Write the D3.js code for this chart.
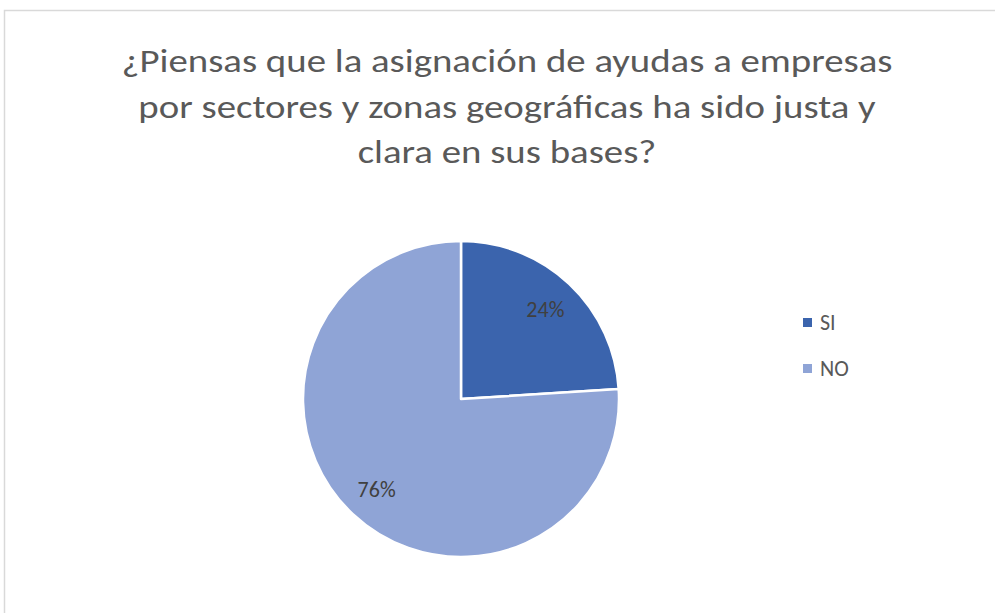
<!DOCTYPE html>
<html>
<head>
<meta charset="utf-8">
<script src="https://cdn.jsdelivr.net/npm/d3@7"></script>
<style>
  html, body { margin: 0; padding: 0; background: #fff; }
  svg { display: block; }
</style>
</head>
<body>
<svg id="chart"></svg>
<script>
const categories = ['SI', 'NO'];
const values = [24, 76];
const colors = ['#3b64ad', '#8fa4d6'];
const titleLines = [
  '¿Piensas que la asignación de ayudas a empresas',
  'por sectores y zonas geográficas ha sido justa y',
  'clara en sus bases?',
];

const width = 995;
const height = 613;
const fontFamily = "Carlito, Calibri, 'Open Sans', sans-serif";

const svg = d3.select('#chart')
  .attr('width', width)
  .attr('height', height);

// chart frame (runs off the right and bottom of the window)
svg.append('rect')
  .attr('x', 4.5)
  .attr('y', 10.5)
  .attr('width', 1100)
  .attr('height', 800)
  .attr('fill', '#fff')
  .attr('stroke', '#d9d9d9')
  .attr('stroke-width', 1.5);

// title
const title = svg.append('g')
  .attr('font-family', fontFamily)
  .attr('font-size', 32)
  .attr('fill', '#595959')
  .attr('text-anchor', 'middle');

const titleText = title.selectAll('text')
  .data(titleLines)
  .enter().append('text')
  .attr('x', 507)
  .attr('y', (d, i) => 72 + i * 45.5)
  .text((d) => d);

// squeeze to Calibri-like width
const natural = titleText.nodes()[0].getComputedTextLength();
const k = 771 / natural;
titleText.each(function () {
  const len = this.getComputedTextLength();
  d3.select(this)
    .attr('textLength', len * k)
    .attr('lengthAdjust', 'spacingAndGlyphs');
});

// pie
const cx = 461;
const cy = 399;
const radius = 158;

const pie = d3.pie().sort(null).value((d) => d);
const arcs = pie(values);
const arc = d3.arc().innerRadius(0).outerRadius(radius);
const labelArc = d3.arc().innerRadius(radius * 0.78).outerRadius(radius * 0.78);

const g = svg.append('g')
  .attr('transform', `translate(${cx},${cy})`);

g.selectAll('path')
  .data(arcs)
  .enter().append('path')
  .attr('d', arc)
  .attr('fill', (d, i) => colors[i])
  .attr('stroke', '#fff')
  .attr('stroke-width', 2.5)
  .attr('stroke-linejoin', 'round');

const total = d3.sum(values);
g.selectAll('text.label')
  .data(arcs)
  .enter().append('text')
  .attr('class', 'label')
  .attr('transform', (d) => `translate(${labelArc.centroid(d)})`)
  .attr('text-anchor', 'middle')
  .attr('dy', '0.35em')
  .attr('font-family', fontFamily)
  .attr('font-size', 22)
  .attr('fill', '#404040')
  .text((d) => `${Math.round((d.value / total) * 100)}%`);

// legend
const legend = svg.append('g')
  .attr('transform', 'translate(803,318)');

const item = legend.selectAll('g')
  .data(categories)
  .enter().append('g')
  .attr('transform', (d, i) => `translate(0,${i * 46})`);

item.append('rect')
  .attr('width', 9)
  .attr('height', 9)
  .attr('fill', (d, i) => colors[i]);

item.append('text')
  .attr('x', 17)
  .attr('y', 12)
  .attr('font-family', fontFamily)
  .attr('font-size', 22)
  .attr('fill', '#595959')
  .text((d) => d);
</script>
</body>
</html>
